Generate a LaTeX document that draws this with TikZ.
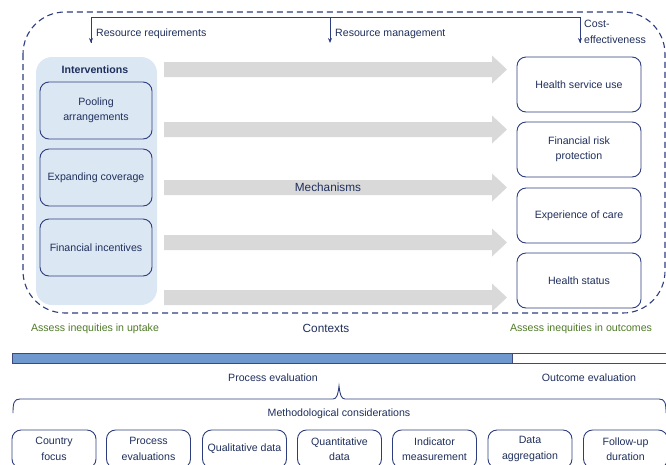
\documentclass[tikz,border=0pt]{standalone}
\usepackage{fontspec}
\setmainfont{Liberation Sans}
\usetikzlibrary{arrows.meta}

\definecolor{navy}{HTML}{2E3D7E}
\definecolor{ink}{HTML}{1F2F5C}
\definecolor{panel}{HTML}{DCE7F4}
\definecolor{shaft}{HTML}{D9D9D9}
\definecolor{olive}{HTML}{4F7A28}
\definecolor{barblue}{HTML}{6E98CE}

\begin{document}
\begin{tikzpicture}[x=1pt,y=-1pt,font=\fontsize{10.6}{15.5}\selectfont,text=ink]
        \useasboundingbox (0,0) rectangle (666,464);

        % context frame and intervention panel
        \draw[navy,line width=1.1pt,dash pattern=on 6pt off 4pt,rounded corners=42] (23,12) rectangle (665,313);
        \fill[panel,rounded corners=16] (36,57) rectangle (157,305);

        % mechanism arrows
        \foreach \y in {69.5,129.5,187.5,242.5,297.5}
          \fill[shaft] (164,\y-7.5) -- (492,\y-7.5) -- (492,\y-14) -- (507,\y)
            -- (492,\y+14) -- (492,\y+7.5) -- (164,\y+7.5) -- cycle;

        \node[font=\bfseries\fontsize{10.6}{13}\selectfont] (int) at (95,70) {Interventions};
        \node[font=\fontsize{11.8}{14}\selectfont] (mech) at (328,187.5) {Mechanisms};

        \begin{scope}[every node/.style={draw=navy,line width=0.9pt,rounded corners=9,
            align=center,minimum width=112pt,minimum height=57pt,inner sep=1pt}]
          \node (pool)   at (96,110.5) {Pooling\\arrangements};
          \node (expand) at (96,177.5) {Expanding coverage};
          \node (incent) at (96,247.5) {Financial incentives};
        \end{scope}

        \begin{scope}[every node/.style={draw=navy,fill=white,line width=0.9pt,rounded corners=9,
            align=center,minimum width=124pt,minimum height=55pt,inner sep=1pt}]
          \node (use)    at (579,84.5)  {Health service use};
          \node (risk)   at (579,149.5) {Financial risk\\protection};
          \node (care)   at (579,215.5) {Experience of care};
          \node (status) at (579,280.5) {Health status};
        \end{scope}

        % resource flows
        \coordinate (rreqtop) at (91,17);
        \coordinate (ceftop)  at (580,17);
        \coordinate (rreq)    at (91,43);
        \coordinate (rman)    at (330,43);
        \coordinate (ceff)    at (580,43);
        \draw[navy,line width=0.9pt] (rreq) -- (rreqtop) -- (ceftop) -- (ceff);
        \begin{scope}[every path/.style={navy,line width=0.9pt,-{Stealth[length=5pt,width=4pt]}}]
          \draw (rreqtop) -- (rreq);
          \draw (rman |- rreqtop) -- (rman);
          \draw (ceftop) -- (ceff);
        \end{scope}

        \begin{scope}[every node/.style={anchor=west,align=left,inner sep=1pt}]
          \node (rreqlab) at (95,34)   {Resource requirements};
          \node (rmanlab) at (334,34)  {Resource management};
          \node (cefflab) at (583,32)  {Cost-\\effectiveness};
        \end{scope}

        \node[text=olive] (uptake)   at (95,329)  {Assess inequities in uptake};
        \node[font=\fontsize{11.8}{14}\selectfont] (ctx) at (326,328) {Contexts};
        \node[text=olive] (outcomes) at (581,329) {Assess inequities in outcomes};

        % evaluation bar
        \fill[barblue] (12,353) rectangle (512,363);
        \draw[navy!80!gray,line width=0.8pt] (12,353) rectangle (670,363);
        \draw[navy!80!gray,line width=0.8pt] (512,353) -- (512,363);
        \node (proc) at (273,378) {Process evaluation};
        \node (outc) at (589,378) {Outcome evaluation};

        % brace
        \draw[navy,line width=0.9pt] (13,413) .. controls (13,403) and (14,399) .. (20,399)
          -- (333,399) .. controls (337,399) and (338,394) .. (339,386)
          .. controls (340,394) and (341,399) .. (345,399) -- (659,399)
          .. controls (665,399) and (666,403) .. (666,413);
        \node (meth) at (339,414) {Methodological considerations};

        \begin{scope}[every node/.style={draw=navy,line width=0.9pt,rounded corners=9,
            align=center,minimum width=84pt,minimum height=38pt,inner sep=1pt}]
          \node (country) at (54,449)    {Country\\focus};
          \node (process) at (148.5,449) {Process\\evaluations};
          \node (qual)    at (244.5,449) {Qualitative data};
          \node (quant)   at (339.5,449) {Quantitative\\data};
          \node (indic)   at (434.5,449) {Indicator\\measurement};
          \node (aggr)    at (530,449)   {Data\\aggregation};
          \node (follow)  at (625.5,449) {Follow-up\\duration};
        \end{scope}

      \end{tikzpicture}
\end{document}
